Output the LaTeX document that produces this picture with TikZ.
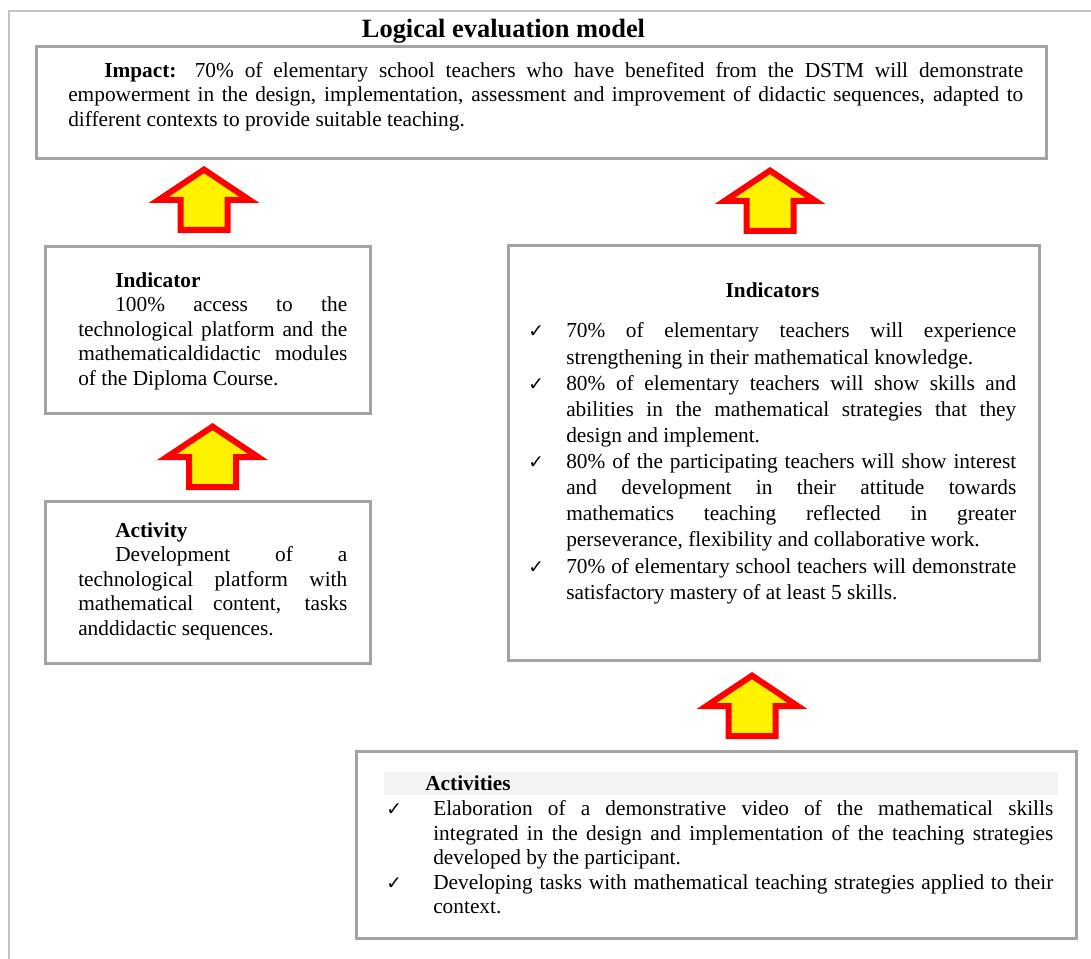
\documentclass[tikz,border=0pt]{standalone}
\usepackage{fontspec}
\setmainfont{Liberation Serif}
\newfontfamily\checkfont{DejaVu Sans}
\tolerance=9999
\hyphenpenalty=10000
\exhyphenpenalty=10000

\definecolor{boxgray}{RGB}{163,163,163}
\definecolor{framegray}{RGB}{196,196,196}
\definecolor{bandgray}{RGB}{243,243,246}

\newcommand{\tick}{{\checkfont\fontsize{14}{14}\selectfont ✓}}
\newenvironment{ticklist}[1]{\begin{list}{\tick}{\leftmargin=#1\labelwidth=#1\labelsep=0pt\itemindent=0pt
	\itemsep=0pt\parsep=0pt\topsep=0pt\partopsep=0pt\renewcommand\makelabel[1]{##1\hfil}}}{\end{list}}

\tikzset{
	box/.style={draw=boxgray, line width=2pt, anchor=north west, inner sep=0pt},
	txt/.style={anchor=north west, inner sep=0pt, align=justify, font=\fontsize{16}{18.4}\selectfont},
	head/.style={inner sep=0pt, font=\bfseries\fontsize{16}{18.4}\selectfont},
	uparrow/.pic={
		\path[draw=red, fill=yellow, line width=4.5pt] (0,3.6) -- (45.5,34) -- (23.5,34) -- (23.5,64)
			-- (-23.5,64) -- (-23.5,34) -- (-45.5,34) -- cycle;
	}
}

\begin{document}
\begin{tikzpicture}[x=0.75pt, y=-0.75pt]
	\useasboundingbox (0,0) rectangle (1091,959);
	\draw[framegray, line width=1pt] (9,959) -- (9,11) -- (1091,11);

	\node[anchor=base, inner sep=0pt, font=\bfseries\fontsize{19.8}{22}\selectfont] (title) at (503.5,38) {Logical evaluation model};

	\node[box, minimum width=757.5pt, minimum height=84pt] (impact) at (35,45) {};
	\node[txt, text width=716.25pt] (impacttxt) at (68,59.8) {\strut\hspace*{27pt}\textbf{Impact:} 70\% of elementary school teachers who have benefited from the DSTM will demonstrate\linebreak
		empowerment in the design, implementation, assessment and improvement of didactic sequences, adapted to\linebreak
		different contexts to provide suitable teaching.};

	\node[box, minimum width=243.75pt, minimum height=125.25pt] (indic) at (44,245) {};
	\node[txt, text width=201.75pt] (indictxt) at (78,269.8) {\strut\hspace*{27.75pt}\textbf{Indicator}\par
		\hspace*{27.75pt}100\% access to the\linebreak technological platform and the\linebreak mathematicaldidactic modules\linebreak of the Diploma Course.};

	\node[box, minimum width=243.75pt, minimum height=121.5pt] (activ) at (44,500) {};
	\node[txt, text width=201.75pt] (activtxt) at (78,519.8) {\strut\hspace*{27.75pt}\textbf{Activity}\par
		\hspace*{27.75pt}Development of a\linebreak technological platform with\linebreak mathematical content, tasks\linebreak anddidactic sequences.};

	\node[box, minimum width=398.25pt, minimum height=311.25pt] (indics) at (507,244) {};
	\node[head, anchor=base] (indicshead) at (772.5,297) {Indicators};
	\node[txt, text width=366pt, font=\fontsize{16}{19.6}\selectfont] (indicslist) at (528,311.5) {%
		\begin{ticklist}{28.5pt}
			\item \strut 70\% of elementary teachers will experience\linebreak strengthening in their mathematical knowledge.
			\item 80\% of elementary teachers will show skills and\linebreak abilities in the mathematical strategies that they\linebreak design and implement.
			\item 80\% of the participating teachers will show interest\linebreak and development in their attitude towards\linebreak mathematics teaching reflected in greater\linebreak perseverance, flexibility and collaborative work.
			\item 70\% of elementary school teachers will demonstrate\linebreak satisfactory mastery of at least 5 skills.
		\end{ticklist}};

	\node[box, minimum width=540pt, minimum height=140.25pt] (activs) at (355,750) {};
	\fill[bandgray] (384,772) rectangle (1058,795);
	\node[head, anchor=base west] (activshead) at (425,790) {Activities};
	\node[txt, text width=500.25pt] (activslist) at (386,791) {%
		\begin{ticklist}{35.25pt}
			\item \strut Elaboration of a demonstrative video of the mathematical skills\linebreak integrated in the design and implementation of the teaching strategies\linebreak developed by the participant.
			\item Developing tasks with mathematical teaching strategies applied to their\linebreak context.
		\end{ticklist}};

	\pic at (204,166) {uparrow};
	\pic at (770,167) {uparrow};
	\pic at (212.5,423) {uparrow};
	\pic at (752,672) {uparrow};
\end{tikzpicture}
\end{document}
